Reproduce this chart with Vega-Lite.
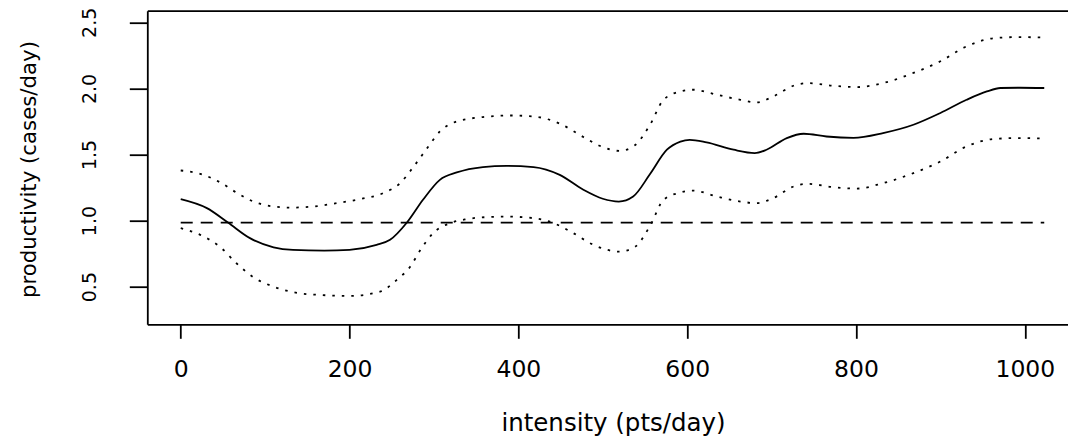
{
  "$schema": "https://vega.github.io/schema/vega-lite/v6.json",
  "width": 921,
  "height": 313.6,
  "autosize": {"type": "none"},
  "padding": {"left": 147.3, "top": 10.7, "right": 0, "bottom": 117.7},
  "background": "white",
  "config": {
    "view": {"stroke": null},
    "font": "DejaVu Sans",
    "axis": {"grid": false, "labelFlush": false, "labelOverlap": false}
  },
  "data": {
    "values": [
      {"s": "fit", "x": 0, "y": 1.162}, {"s": "fit", "x": 31, "y": 1.094}, {"s": "fit", "x": 56, "y": 0.985},
      {"s": "fit", "x": 82, "y": 0.867}, {"s": "fit", "x": 110, "y": 0.798}, {"s": "fit", "x": 133, "y": 0.778},
      {"s": "fit", "x": 170, "y": 0.772}, {"s": "fit", "x": 200, "y": 0.778}, {"s": "fit", "x": 232, "y": 0.816},
      {"s": "fit", "x": 248, "y": 0.854}, {"s": "fit", "x": 268, "y": 0.985}, {"s": "fit", "x": 287, "y": 1.157},
      {"s": "fit", "x": 307, "y": 1.308}, {"s": "fit", "x": 327, "y": 1.364}, {"s": "fit", "x": 358, "y": 1.405},
      {"s": "fit", "x": 386, "y": 1.414}, {"s": "fit", "x": 418, "y": 1.405}, {"s": "fit", "x": 449, "y": 1.346},
      {"s": "fit", "x": 477, "y": 1.233}, {"s": "fit", "x": 500, "y": 1.165}, {"s": "fit", "x": 519, "y": 1.144},
      {"s": "fit", "x": 536, "y": 1.182}, {"s": "fit", "x": 556, "y": 1.352}, {"s": "fit", "x": 576, "y": 1.536},
      {"s": "fit", "x": 592, "y": 1.598}, {"s": "fit", "x": 603, "y": 1.611}, {"s": "fit", "x": 623, "y": 1.591},
      {"s": "fit", "x": 655, "y": 1.536}, {"s": "fit", "x": 680, "y": 1.511}, {"s": "fit", "x": 694, "y": 1.536},
      {"s": "fit", "x": 718, "y": 1.624}, {"s": "fit", "x": 738, "y": 1.657}, {"s": "fit", "x": 765, "y": 1.636},
      {"s": "fit", "x": 797, "y": 1.626}, {"s": "fit", "x": 832, "y": 1.662}, {"s": "fit", "x": 868, "y": 1.725},
      {"s": "fit", "x": 900, "y": 1.814}, {"s": "fit", "x": 931, "y": 1.914}, {"s": "fit", "x": 955, "y": 1.977},
      {"s": "fit", "x": 971, "y": 2.003}, {"s": "fit", "x": 994, "y": 2.005}, {"s": "fit", "x": 1023, "y": 2.003},

      {"s": "upper", "x": 0, "y": 1.379}, {"s": "upper", "x": 23, "y": 1.354}, {"s": "upper", "x": 47, "y": 1.288},
      {"s": "upper", "x": 66, "y": 1.212}, {"s": "upper", "x": 86, "y": 1.144}, {"s": "upper", "x": 110, "y": 1.106},
      {"s": "upper", "x": 130, "y": 1.098}, {"s": "upper", "x": 157, "y": 1.106}, {"s": "upper", "x": 185, "y": 1.132},
      {"s": "upper", "x": 212, "y": 1.162}, {"s": "upper", "x": 240, "y": 1.208}, {"s": "upper", "x": 260, "y": 1.283},
      {"s": "upper", "x": 276, "y": 1.409}, {"s": "upper", "x": 292, "y": 1.548}, {"s": "upper", "x": 307, "y": 1.674},
      {"s": "upper", "x": 327, "y": 1.75}, {"s": "upper", "x": 358, "y": 1.783}, {"s": "upper", "x": 390, "y": 1.795},
      {"s": "upper", "x": 418, "y": 1.788}, {"s": "upper", "x": 449, "y": 1.733}, {"s": "upper", "x": 477, "y": 1.632},
      {"s": "upper", "x": 497, "y": 1.564}, {"s": "upper", "x": 520, "y": 1.527}, {"s": "upper", "x": 538, "y": 1.57},
      {"s": "upper", "x": 556, "y": 1.725}, {"s": "upper", "x": 572, "y": 1.914}, {"s": "upper", "x": 592, "y": 1.977},
      {"s": "upper", "x": 607, "y": 1.99}, {"s": "upper", "x": 635, "y": 1.952}, {"s": "upper", "x": 663, "y": 1.914},
      {"s": "upper", "x": 682, "y": 1.894}, {"s": "upper", "x": 702, "y": 1.939}, {"s": "upper", "x": 726, "y": 2.02},
      {"s": "upper", "x": 742, "y": 2.04}, {"s": "upper", "x": 773, "y": 2.02}, {"s": "upper", "x": 801, "y": 2.01},
      {"s": "upper", "x": 832, "y": 2.04}, {"s": "upper", "x": 868, "y": 2.117}, {"s": "upper", "x": 900, "y": 2.205},
      {"s": "upper", "x": 931, "y": 2.318}, {"s": "upper", "x": 963, "y": 2.38}, {"s": "upper", "x": 990, "y": 2.388},
      {"s": "upper", "x": 1023, "y": 2.385},

      {"s": "lower", "x": 0, "y": 0.942}, {"s": "lower", "x": 23, "y": 0.892}, {"s": "lower", "x": 47, "y": 0.798},
      {"s": "lower", "x": 66, "y": 0.677}, {"s": "lower", "x": 86, "y": 0.571}, {"s": "lower", "x": 110, "y": 0.5},
      {"s": "lower", "x": 133, "y": 0.458}, {"s": "lower", "x": 165, "y": 0.437}, {"s": "lower", "x": 200, "y": 0.43},
      {"s": "lower", "x": 236, "y": 0.462}, {"s": "lower", "x": 256, "y": 0.551}, {"s": "lower", "x": 272, "y": 0.652},
      {"s": "lower", "x": 284, "y": 0.778}, {"s": "lower", "x": 299, "y": 0.905}, {"s": "lower", "x": 319, "y": 0.98},
      {"s": "lower", "x": 339, "y": 1.011}, {"s": "lower", "x": 362, "y": 1.026}, {"s": "lower", "x": 386, "y": 1.03},
      {"s": "lower", "x": 418, "y": 1.018}, {"s": "lower", "x": 442, "y": 0.98}, {"s": "lower", "x": 465, "y": 0.905},
      {"s": "lower", "x": 489, "y": 0.816}, {"s": "lower", "x": 520, "y": 0.765}, {"s": "lower", "x": 538, "y": 0.8},
      {"s": "lower", "x": 556, "y": 0.96}, {"s": "lower", "x": 572, "y": 1.157}, {"s": "lower", "x": 592, "y": 1.212},
      {"s": "lower", "x": 607, "y": 1.227}, {"s": "lower", "x": 635, "y": 1.182}, {"s": "lower", "x": 663, "y": 1.144},
      {"s": "lower", "x": 682, "y": 1.132}, {"s": "lower", "x": 702, "y": 1.17}, {"s": "lower", "x": 726, "y": 1.258},
      {"s": "lower", "x": 742, "y": 1.278}, {"s": "lower", "x": 773, "y": 1.253}, {"s": "lower", "x": 801, "y": 1.242},
      {"s": "lower", "x": 832, "y": 1.283}, {"s": "lower", "x": 868, "y": 1.359}, {"s": "lower", "x": 900, "y": 1.447},
      {"s": "lower", "x": 931, "y": 1.561}, {"s": "lower", "x": 963, "y": 1.617}, {"s": "lower", "x": 990, "y": 1.624},
      {"s": "lower", "x": 1023, "y": 1.621},

      {"s": "ref", "x": 0, "y": 0.985}, {"s": "ref", "x": 1023, "y": 0.985}
    ]
  },
  "layer": [
    {
      "transform": [{"filter": "datum.s === 'fit'"}],
      "mark": {"type": "line", "interpolate": "monotone", "color": "black", "strokeWidth": 1.8},
      "encoding": {
        "x": {
          "field": "x", "type": "quantitative",
          "scale": {"domain": [-39.6, 1051.5], "nice": false, "zero": false},
          "axis": {
            "orient": "bottom", "values": [0, 200, 400, 600, 800, 1000], "format": "d",
            "domainColor": "black", "domainWidth": 1.8,
            "tickColor": "black", "tickWidth": 1.8, "tickSize": 14,
            "labelFont": "DejaVu Sans", "labelFontSize": 23.5, "labelColor": "black", "labelPadding": 19,
            "title": "intensity (pts/day)", "titleFont": "DejaVu Sans", "titleFontSize": 24.5,
            "titleFontWeight": "normal", "titleColor": "black",
            "titleX": 465.7, "titleY": 106.7, "titleBaseline": "alphabetic", "titleAlign": "center"
          }
        },
        "y": {
          "field": "y", "type": "quantitative",
          "scale": {"domain": [0.215, 2.588], "nice": false, "zero": false},
          "axis": {
            "orient": "left", "values": [0.5, 1.0, 1.5, 2.0, 2.5], "format": ".1f",
            "domainColor": "black", "domainWidth": 1.8,
            "tickColor": "black", "tickWidth": 1.8, "tickSize": 18,
            "labelFont": "DejaVu Sans", "labelFontSize": 19, "labelColor": "black",
            "labelAngle": -90, "labelAlign": "center", "labelBaseline": "bottom", "labelPadding": 30,
            "title": "productivity (cases/day)", "titleFont": "DejaVu Sans", "titleFontSize": 21.3,
            "titleFontWeight": "normal", "titleColor": "black",
            "titleAngle": -90, "titleX": -112, "titleY": 158.3, "titleBaseline": "alphabetic", "titleAlign": "center"
          }
        }
      }
    },
    {
      "transform": [{"filter": "datum.s === 'ref'"}],
      "mark": {"type": "line", "color": "black", "strokeWidth": 1.8, "strokeDash": [12, 8]},
      "encoding": {
        "x": {
          "field": "x", "type": "quantitative",
          "axis": {"orient": "top", "labels": false, "ticks": false, "title": null, "domain": true,
                   "domainColor": "black", "domainWidth": 1.8}
        },
        "y": {"field": "y", "type": "quantitative", "axis": null}
      }
    },
    {
      "transform": [{"filter": "datum.s === 'upper'"}],
      "mark": {"type": "line", "interpolate": "monotone", "color": "black", "strokeWidth": 1.8, "strokeDash": [2.5, 7]},
      "encoding": {
        "x": {"field": "x", "type": "quantitative", "axis": null},
        "y": {"field": "y", "type": "quantitative", "axis": null}
      }
    },
    {
      "transform": [{"filter": "datum.s === 'lower'"}],
      "mark": {"type": "line", "interpolate": "monotone", "color": "black", "strokeWidth": 1.8, "strokeDash": [2.5, 7]},
      "encoding": {
        "x": {"field": "x", "type": "quantitative", "axis": null},
        "y": {"field": "y", "type": "quantitative", "axis": null}
      }
    }
  ],
  "resolve": {"axis": {"x": "independent", "y": "independent"}}
}
